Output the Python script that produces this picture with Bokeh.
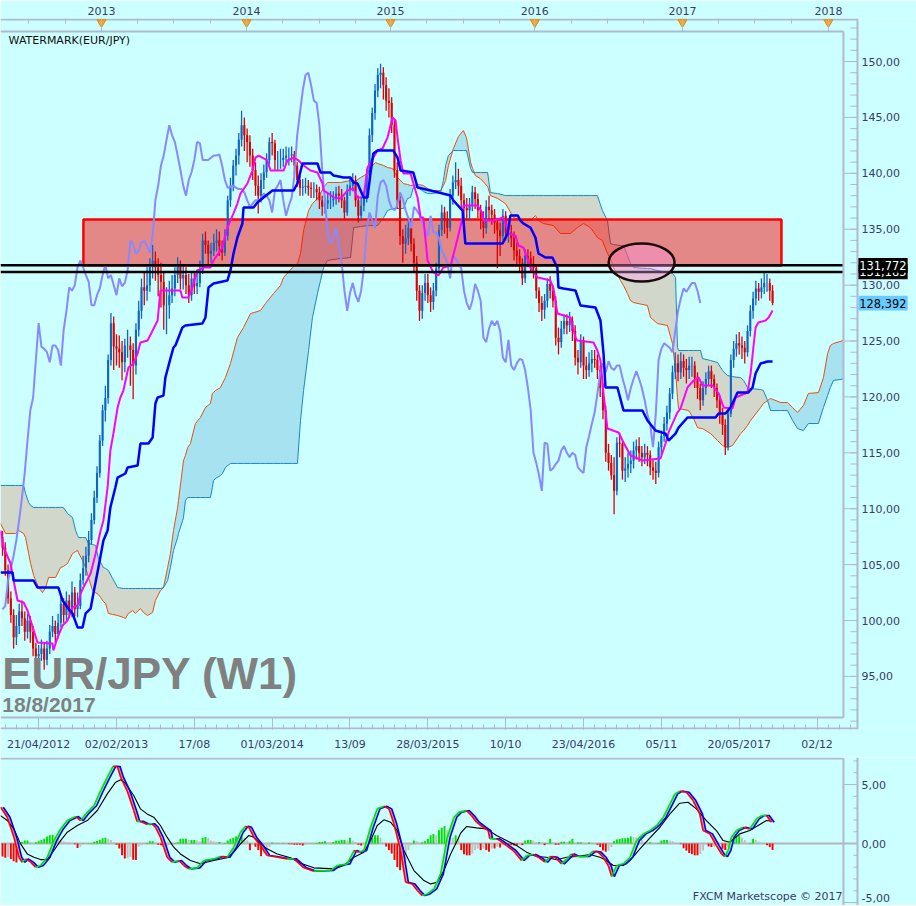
import numpy as np
from bokeh.plotting import figure
from bokeh.models import Range1d, LinearAxis, FixedTicker, Label, CustomJSTickFormatter
from bokeh.layouts import column
from bokeh.embed import file_html
from bokeh.resources import INLINE
from bokeh.core.properties import value

# ---------------- data (x = weeks since 21/04/2012, y = EUR/JPY) ----------------
FIRST_OPEN = 107.5
CLOSE = [
    106.5, 104.5, 102.0, 100.5, 98.5, 99.5, 100.8, 100.2, 99.0, 100.0,
    99.0, 97.5, 96.8, 97.0, 97.5, 96.5, 97.5, 99.0, 99.5, 98.8,
    99.8, 101.5, 100.5, 101.8, 100.8, 102.5, 101.0, 101.3, 103.6, 104.7,
    105.8, 107.2, 109.0, 111.0, 113.2, 116.1, 118.8, 119.9, 123.3, 126.6,
    124.5, 124.3, 124.0, 123.1, 124.6, 124.6, 124.2, 122.8, 126.0, 127.7,
    129.8, 129.5, 130.0, 131.6, 132.2, 131.6, 130.9, 130.3, 128.2, 128.2,
    129.1, 129.7, 130.9, 131.8, 130.6, 130.9, 130.0, 129.1, 130.6, 129.9,
    130.2, 131.3, 134.0, 133.6, 132.8, 133.1, 133.8, 134.0, 133.5, 132.9,
    134.4, 137.6, 138.9, 140.7, 141.6, 143.0, 144.3, 143.4, 142.8, 141.6,
    140.3, 138.9, 138.0, 139.4, 140.1, 141.2, 142.8, 142.7, 141.2, 141.2,
    141.2, 141.4, 141.6, 141.6, 141.7, 140.7, 139.4, 138.7, 138.8, 138.9,
    138.7, 138.6, 138.6, 138.3, 137.6, 137.0, 137.3, 137.6, 137.6, 137.7,
    138.2, 138.0, 137.6, 136.5, 138.5, 138.9, 139.4, 137.6, 136.2, 137.1,
    137.8, 139.8, 143.4, 145.4, 147.4, 148.8, 149.0, 147.9, 146.5, 146.3,
    144.3, 140.3, 137.6, 134.4, 133.7, 134.2, 135.1, 133.7, 132.0, 129.5,
    127.7, 129.3, 130.2, 129.1, 128.5, 129.5, 131.5, 134.9, 136.5, 135.8,
    135.1, 138.0, 139.2, 139.4, 138.9, 137.6, 136.9, 136.7, 137.1, 138.3,
    137.7, 136.7, 136.0, 135.1, 137.0, 136.7, 136.3, 135.6, 134.9, 134.4,
    136.2, 134.7, 134.7, 134.2, 133.1, 132.6, 132.0, 130.6, 132.6, 132.4,
    131.9, 131.5, 129.5, 128.4, 127.8, 128.6, 130.1, 129.5, 128.6, 125.3,
    124.9, 126.1, 126.8, 126.4, 126.8, 125.9, 123.5, 123.1, 125.1, 122.8,
    122.4, 123.0, 123.4, 123.3, 122.4, 120.8, 118.8, 115.0, 114.1, 113.0,
    111.6, 115.9, 115.8, 113.4, 113.6, 114.0, 114.3, 115.2, 115.6, 115.0,
    114.6, 115.0, 114.8, 113.7, 113.4, 113.2, 115.5, 116.5, 117.6, 118.6,
    120.3, 122.2, 123.0, 122.2, 123.2, 122.6, 122.4, 122.8, 122.8, 121.7,
    120.8, 119.7, 120.8, 121.6, 122.3, 121.6, 120.8, 119.7, 118.4, 117.5,
    115.5, 118.5, 123.3, 124.3, 124.8, 124.6, 124.4, 124.0, 125.9, 127.7,
    128.8, 129.7, 129.4, 129.8, 130.2, 130.2, 129.5, 128.4]
HIGH = [
    108.0, 107.0, 105.0, 102.6, 101.0, 100.5, 101.5, 101.8, 100.8, 100.6,
    100.4, 99.5, 98.0, 97.8, 98.3, 97.9, 98.2, 99.6, 100.4, 100.0,
    100.6, 102.2, 102.0, 102.6, 102.3, 103.5, 103.0, 102.5, 104.2, 105.8,
    106.6, 108.0, 109.6, 111.6, 113.8, 116.6, 119.3, 121.0, 123.8, 127.5,
    127.2, 125.6, 125.5, 125.0, 125.2, 126.0, 125.4, 124.8, 126.6, 128.6,
    130.6, 131.1, 131.6, 132.4, 133.6, 133.0, 132.4, 132.0, 131.2, 129.8,
    130.4, 130.9, 131.6, 132.5, 132.2, 131.8, 131.6, 131.0, 131.2, 131.2,
    131.4, 132.2, 134.6, 134.8, 134.0, 133.8, 134.6, 135.0, 134.8, 134.0,
    135.0, 138.0, 139.6, 141.2, 142.2, 143.6, 145.6, 145.0, 144.0, 143.4,
    142.2, 141.0, 139.8, 140.0, 140.8, 141.8, 143.2, 143.6, 143.0, 142.0,
    142.2, 142.2, 142.4, 142.3, 142.4, 142.0, 141.0, 139.8, 139.5, 139.6,
    139.4, 139.2, 139.2, 139.0, 138.8, 138.0, 137.9, 138.2, 138.4, 138.4,
    138.8, 138.9, 138.6, 137.9, 139.0, 139.7, 140.0, 139.8, 138.0, 137.8,
    138.4, 140.4, 144.0, 145.9, 148.0, 149.4, 149.8, 149.5, 148.6, 147.6,
    146.8, 144.8, 141.0, 138.2, 135.0, 135.4, 136.0, 135.8, 134.2, 132.6,
    130.0, 130.0, 131.0, 131.0, 129.8, 130.2, 132.0, 135.4, 137.2, 137.0,
    136.6, 138.6, 139.8, 141.0, 140.4, 139.6, 138.2, 137.8, 137.8, 138.9,
    138.8, 138.2, 137.2, 136.6, 137.6, 138.0, 137.2, 136.8, 136.0, 135.6,
    136.8, 136.6, 135.6, 135.4, 134.8, 133.8, 133.2, 132.4, 133.2, 133.2,
    133.0, 132.6, 131.8, 129.8, 129.0, 129.2, 130.6, 130.8, 130.0, 129.0,
    126.2, 126.8, 127.4, 127.4, 127.6, 127.2, 126.4, 124.2, 125.6, 125.4,
    123.6, 124.0, 124.2, 124.2, 123.8, 122.8, 121.2, 119.2, 115.8, 114.8,
    114.6, 116.4, 116.8, 116.0, 114.6, 115.0, 115.2, 116.0, 116.2, 116.4,
    115.6, 115.8, 115.6, 115.2, 114.4, 114.2, 116.0, 117.0, 118.2, 119.2,
    120.8, 122.8, 124.0, 123.8, 124.0, 123.8, 123.4, 123.6, 123.6, 123.2,
    122.2, 121.2, 121.4, 122.2, 122.8, 122.8, 122.0, 121.2, 120.2, 119.0,
    118.0, 119.0, 123.8, 125.0, 125.6, 125.8, 125.4, 125.0, 126.4, 128.2,
    129.4, 130.4, 130.2, 130.6, 131.2, 131.0, 130.6, 130.0]
LOW = [
    105.8, 104.0, 101.5, 99.8, 97.5, 97.8, 98.8, 99.5, 98.2, 98.4,
    98.0, 96.8, 95.8, 96.0, 96.4, 95.6, 96.0, 97.0, 98.5, 98.0,
    98.4, 99.4, 99.8, 100.0, 100.2, 100.3, 100.4, 100.3, 101.0, 103.2,
    104.0, 105.2, 106.8, 108.6, 110.5, 112.8, 115.6, 117.8, 119.4, 122.8,
    122.4, 122.8, 122.6, 121.5, 122.2, 123.5, 121.0, 119.8, 122.0, 125.4,
    127.0, 128.2, 128.6, 129.4, 130.6, 130.4, 129.0, 128.0, 126.0, 125.6,
    127.0, 128.4, 129.0, 130.2, 129.6, 129.6, 129.2, 128.4, 128.6, 129.2,
    129.2, 129.8, 131.0, 132.8, 131.8, 132.0, 132.6, 133.0, 132.6, 132.2,
    132.6, 134.0, 137.0, 138.4, 139.8, 140.8, 142.4, 142.0, 141.0, 140.6,
    139.4, 138.0, 136.4, 137.4, 138.6, 139.6, 140.8, 141.6, 140.2, 140.2,
    140.4, 140.6, 140.8, 140.7, 141.0, 139.8, 138.8, 138.0, 138.0, 138.2,
    138.0, 137.8, 137.8, 137.6, 136.8, 136.2, 136.4, 136.8, 136.8, 137.0,
    137.2, 137.4, 136.9, 135.8, 136.2, 138.0, 138.4, 137.0, 135.6, 135.8,
    136.6, 137.4, 139.4, 142.8, 144.8, 146.8, 147.6, 146.6, 145.6, 145.0,
    143.6, 139.6, 136.8, 133.6, 132.0, 132.8, 133.6, 133.0, 131.2, 128.6,
    126.8, 127.0, 128.6, 128.4, 127.6, 127.8, 129.0, 131.2, 134.4, 134.6,
    134.2, 134.8, 137.2, 138.6, 138.0, 136.8, 135.4, 135.8, 135.8, 136.6,
    136.8, 136.0, 135.0, 134.2, 134.6, 135.8, 135.4, 134.6, 131.5, 132.6,
    134.0, 134.0, 133.8, 133.4, 132.2, 131.8, 131.2, 130.0, 130.2, 131.6,
    131.2, 130.6, 128.8, 127.6, 126.8, 127.0, 128.0, 128.8, 128.0, 124.6,
    123.8, 124.4, 125.6, 125.6, 125.8, 125.0, 122.8, 122.0, 122.6, 121.6,
    121.6, 121.8, 122.2, 122.6, 121.6, 120.0, 118.0, 114.2, 113.4, 112.6,
    109.5, 111.2, 114.6, 112.6, 112.4, 112.8, 113.2, 113.6, 114.4, 114.2,
    113.8, 114.0, 113.8, 113.0, 112.6, 112.2, 112.8, 114.8, 116.0, 117.0,
    118.0, 119.8, 121.6, 121.4, 121.6, 121.8, 121.2, 121.6, 121.8, 120.8,
    119.8, 118.8, 119.2, 120.2, 121.0, 120.8, 120.0, 119.0, 117.6, 116.6,
    114.8, 115.2, 118.2, 122.6, 123.6, 123.8, 123.4, 123.0, 123.6, 125.4,
    127.0, 128.2, 128.6, 128.8, 129.2, 129.4, 128.6, 128.2]

TENKAN_W = [
    -0.7, 0.4, 2.9, 4.0, 5.4, 7.6, 9.0, 12.6, 18.0, 18.3,
    19.8, 21.6, 23.4, 25.2, 27.0, 28.1, 29.1, 31.7, 33.5, 35.3,
    36.3, 37.8, 38.8, 39.9, 41.4, 42.4, 43.5, 45.3, 47.1, 48.6,
    49.6, 52.2, 54.0, 55.8, 56.8, 64.0, 64.7, 66.9, 68.3, 70.1,
    72.3, 74.8, 75.9, 79.1, 80.9, 83.1, 84.5, 85.6, 88.1, 89.9,
    91.0, 92.1, 95.3, 96.4, 101.1, 102.5, 104.7, 106.5, 108.3, 110.8,
    113.3, 115.1, 115.5, 117.3, 119.1, 121.6, 124.1, 126.3, 127.7, 129.9,
    131.3, 133.4, 134.9, 136.7, 138.5, 140.3, 141.4, 142.1, 143.2, 144.2,
    146.8, 147.8, 149.3, 150.4, 151.4, 152.9, 155.0, 156.8, 158.6, 161.2,
    163.7, 165.5, 165.8, 170.9, 172.7, 173.0, 176.6, 180.2, 182.0, 184.5,
    185.6, 187.4, 189.9, 192.4, 194.2, 197.1, 198.2, 199.6, 204.3, 206.1,
    206.8, 212.6, 214.0, 215.1, 216.2, 217.6, 221.6, 223.4, 225.9, 230.2,
    236.7, 238.5, 239.6, 242.8, 243.9, 246.4, 248.6, 250.4, 251.8, 255.4,
    257.6, 259.4, 262.6, 263.7, 268.0, 269.1, 270.1, 270.9, 271.9, 274.5,
    275.6, 277.0]
TENKAN_P = [
    108.05, 106.53, 105.10, 103.58, 101.79, 101.61, 100.90, 98.03, 97.94, 97.32,
    98.48, 99.55, 100.00, 101.16, 101.34, 102.41, 102.95, 104.20, 105.99, 108.05,
    108.94, 111.90, 115.21, 116.73, 119.05, 119.95, 120.57, 122.63, 122.99, 123.88,
    124.87, 125.05, 125.94, 126.83, 129.52, 129.52, 128.89, 128.89, 129.78, 131.31,
    131.57, 131.57, 132.20, 133.36, 135.15, 136.41, 137.30, 138.19, 139.09, 140.25,
    141.41, 141.59, 141.15, 140.25, 140.25, 141.15, 141.41, 141.15, 140.70, 140.25,
    140.07, 139.09, 138.46, 138.19, 137.84, 137.75, 138.46, 138.64, 137.84, 137.84,
    140.52, 141.41, 142.04, 142.22, 143.20, 144.99, 144.72, 143.20, 141.15, 139.98,
    139.98, 139.09, 137.84, 136.05, 136.05, 132.20, 131.13, 130.86, 131.57, 131.75,
    134.17, 136.05, 137.12, 137.12, 136.41, 135.78, 135.78, 136.05, 134.62, 134.44,
    133.54, 133.36, 131.57, 130.68, 130.59, 130.41, 129.70, 127.46, 127.10, 125.31,
    125.05, 124.87, 124.15, 123.26, 120.31, 117.17, 116.82, 115.92, 114.76, 114.31,
    114.49, 115.83, 116.82, 118.61, 118.96, 120.84, 121.47, 121.74, 121.02, 121.02,
    120.31, 119.05, 118.96, 119.95, 120.39, 122.09, 124.42, 126.21, 126.66, 126.83,
    127.10, 127.73]

KIJUN_W = [
    -0.7, 3.6, 4.0, 11.2, 12.6, 20.1, 21.6, 23.7, 25.2, 27.0,
    28.8, 29.9, 31.7, 32.7, 34.5, 36.3, 37.8, 38.8, 40.6, 41.4,
    44.2, 45.0, 48.6, 49.6, 52.5, 54.0, 55.0, 55.8, 57.9, 58.6,
    60.4, 61.5, 62.2, 64.7, 65.8, 71.9, 73.0, 74.1, 75.9, 80.9,
    82.0, 83.1, 84.5, 86.3, 86.7, 90.3, 91.7, 93.9, 97.1, 104.7,
    106.1, 107.9, 113.3, 114.4, 118.0, 119.1, 122.7, 125.2, 126.3, 127.7,
    129.9, 131.3, 132.4, 133.4, 134.9, 140.6, 142.1, 143.2, 147.8, 149.3,
    154.0, 161.2, 162.2, 165.5, 166.5, 179.9, 181.7, 182.7, 185.3, 186.3,
    187.4, 189.9, 191.7, 192.8, 195.3, 197.8, 199.6, 200.0, 201.8, 206.1,
    207.9, 213.3, 215.1, 216.2, 216.9, 221.2, 223.4, 230.2, 232.0, 234.9,
    238.5, 239.6, 242.1, 243.2, 246.4, 256.5, 257.6, 260.1, 261.9, 264.4,
    268.3, 269.8, 270.9, 272.7, 275.2, 277.0]
KIJUN_P = [
    104.29, 104.29, 103.58, 103.58, 102.95, 102.95, 101.79, 101.07, 100.63, 99.38,
    99.38, 100.63, 101.07, 102.41, 104.74, 107.16, 108.05, 110.11, 111.90, 112.79,
    113.15, 113.69, 113.86, 115.83, 115.83, 116.37, 119.41, 119.95, 120.12, 121.74,
    123.43, 124.42, 124.60, 126.21, 126.39, 126.57, 127.10, 129.78, 130.14, 130.41,
    131.31, 132.83, 134.26, 135.51, 136.94, 136.94, 137.39, 137.84, 138.46, 138.46,
    139.09, 140.88, 140.88, 140.07, 140.07, 139.80, 139.62, 139.62, 139.18, 139.09,
    137.84, 137.84, 140.07, 141.77, 142.04, 142.04, 141.41, 140.25, 140.07, 138.73,
    138.46, 138.01, 137.57, 136.67, 133.72, 133.72, 134.62, 136.23, 136.23, 135.78,
    135.51, 135.15, 134.26, 132.83, 132.47, 132.47, 131.57, 129.78, 129.70, 129.52,
    128.18, 128.00, 126.83, 123.88, 120.84, 120.84, 118.78, 118.78, 117.89, 116.99,
    116.72, 116.10, 116.72, 117.26, 118.16, 118.16, 118.51, 118.51, 119.05, 120.39,
    120.39, 120.84, 122.09, 122.99, 123.17, 123.17]

CLOUD_W = [
    -0.7, 1.1, 4.7, 5.8, 7.6, 8.3, 9.4, 10.1, 11.2, 13.0,
    14.4, 15.5, 16.6, 19.1, 20.9, 21.9, 23.4, 25.2, 26.3, 27.0,
    27.3, 28.8, 29.9, 30.9, 32.4, 33.5, 34.5, 35.3, 36.3, 37.1,
    38.1, 39.6, 41.4, 43.5, 44.2, 45.3, 46.8, 47.8, 49.6, 50.7,
    52.2, 54.0, 55.0, 56.8, 57.9, 59.4, 60.4, 61.5, 63.0, 63.3,
    64.8, 65.1, 65.8, 66.6, 67.6, 69.4, 71.2, 73.0, 74.8, 75.5,
    75.9, 76.6, 78.4, 79.1, 80.2, 82.0, 84.5, 86.7, 89.2, 92.8,
    94.6, 97.5, 100.0, 101.1, 104.3, 106.1, 107.2, 108.3, 110.1, 111.5,
    113.3, 114.4, 115.5, 116.9, 121.6, 125.2, 126.3, 128.8, 131.3, 132.4,
    134.2, 134.9, 137.1, 138.5, 140.3, 142.1, 144.2, 145.7, 146.8, 147.8,
    149.6, 151.4, 152.9, 154.0, 157.6, 158.6, 159.4, 160.4, 162.2, 164.0,
    165.8, 166.9, 168.4, 169.1, 170.1, 171.9, 174.5, 175.5, 178.1, 180.9,
    183.8, 186.3, 189.9, 191.7, 192.8, 194.6, 198.2, 200.7, 204.3, 206.8,
    209.0, 211.5, 214.0, 215.8, 217.6, 218.7, 219.8, 222.3, 223.4, 224.8,
    225.9, 227.0, 232.0, 233.1, 235.6, 239.2, 241.0, 242.1, 242.8, 243.2,
    246.8, 248.6, 250.0, 251.1, 251.8, 254.7, 257.2, 259.0, 260.8, 262.6,
    265.5, 266.6, 268.0, 269.1, 272.7, 273.7, 275.2, 276.3, 279.9, 282.4,
    284.2, 286.0, 288.1, 289.9, 293.5, 295.3, 296.8, 297.8, 298.9, 302.5]
SPAN_A = [
    108.68, 107.78, 107.78, 108.05, 107.78, 107.42, 105.99, 105.10, 104.03, 102.95,
    102.49, 102.95, 103.85, 103.85, 104.74, 104.83, 105.10, 105.99, 106.17, 106.26,
    106.08, 105.37, 104.74, 103.85, 102.67, 102.49, 102.32, 102.06, 101.70, 101.52,
    100.63, 100.54, 100.45, 100.27, 100.18, 100.63, 100.89, 100.63, 101.07, 100.72,
    100.45, 100.72, 101.79, 102.67, 102.95, 104.74, 105.99, 108.05, 110.11, 110.73,
    113.69, 114.31, 114.76, 115.47, 115.83, 117.62, 118.16, 119.05, 119.41, 120.31,
    120.39, 120.57, 120.84, 121.20, 121.74, 122.99, 125.31, 126.21, 127.45, 127.73,
    128.36, 129.25, 129.96, 130.68, 131.57, 131.93, 132.83, 134.88, 136.67, 137.30,
    137.75, 138.19, 138.73, 139.18, 139.18, 139.36, 139.18, 139.62, 139.98, 140.52,
    140.97, 140.88, 140.70, 140.52, 140.43, 139.62, 139.09, 139.00, 138.91, 138.91,
    139.00, 138.91, 138.64, 138.46, 138.46, 138.91, 139.36, 140.70, 142.22, 143.29,
    143.83, 143.20, 140.97, 140.43, 139.80, 139.53, 138.82, 138.01, 137.75, 137.30,
    136.05, 135.78, 135.78, 136.23, 135.78, 135.51, 135.33, 134.62, 134.62, 135.15,
    135.51, 135.15, 134.26, 133.99, 132.83, 132.38, 131.57, 130.41, 129.96, 129.25,
    128.62, 128.44, 128.18, 127.10, 126.56, 126.39, 124.78, 122.36, 119.95, 118.96,
    118.78, 118.07, 117.26, 117.17, 117.17, 116.72, 116.10, 115.65, 115.47, 115.65,
    116.72, 116.99, 117.44, 117.89, 119.05, 119.41, 119.68, 119.86, 119.50, 119.50,
    119.05, 118.61, 119.23, 120.31, 120.39, 121.72, 123.88, 124.60, 124.78, 125.05]
SPAN_B = [
    112.08, 112.08, 112.08, 112.08, 112.08, 111.36, 110.55, 110.29, 110.11, 110.11,
    110.11, 110.11, 110.11, 110.11, 110.11, 110.11, 109.57, 109.21, 108.05, 107.60,
    107.42, 107.42, 107.42, 106.89, 106.80, 106.71, 105.55, 105.19, 104.74, 104.65,
    104.47, 103.76, 102.95, 102.86, 102.86, 102.86, 102.86, 102.86, 102.86, 102.86,
    102.86, 102.86, 102.86, 102.86, 102.95, 103.58, 104.74, 106.26, 107.42, 107.78,
    108.94, 109.21, 110.73, 111.00, 111.00, 111.00, 111.00, 111.00, 111.00, 111.90,
    112.52, 112.70, 112.97, 113.15, 113.69, 114.05, 114.05, 114.05, 114.05, 114.05,
    114.05, 114.05, 114.05, 114.05, 114.05, 114.05, 117.89, 120.57, 124.15, 127.10,
    129.25, 130.41, 131.57, 132.21, 132.38, 132.47, 135.15, 135.24, 135.33, 135.33,
    135.33, 135.33, 136.05, 136.67, 136.85, 136.85, 136.85, 137.75, 137.84, 138.73,
    138.73, 138.37, 138.19, 138.19, 138.28, 139.36, 140.70, 141.59, 142.04, 142.04,
    142.04, 142.04, 140.43, 140.07, 140.07, 140.07, 140.07, 138.28, 138.19, 138.01,
    138.01, 138.01, 138.01, 138.01, 138.01, 138.01, 138.01, 138.01, 138.01, 138.01,
    138.01, 138.01, 138.01, 136.67, 135.78, 133.72, 133.63, 133.54, 133.54, 132.65,
    131.93, 131.57, 131.48, 131.48, 131.31, 131.12, 131.04, 130.68, 124.42, 124.15,
    124.15, 124.15, 124.15, 124.15, 123.43, 123.26, 123.08, 122.36, 121.91, 121.82,
    121.72, 121.47, 120.84, 120.75, 120.66, 120.57, 119.68, 118.78, 118.78, 118.78,
    117.89, 117.17, 116.99, 117.62, 117.62, 119.05, 120.13, 120.84, 121.47, 121.60]
CHIKOU_SHIFT = 26

MACD_W = [
    -0.7, 1.7, 4.1, 5.9, 7.1, 8.3, 10.1, 11.9, 13.7, 16.1,
    18.5, 20.9, 23.3, 26.3, 28.1, 29.9, 32.9, 35.3, 37.7, 39.8,
    41.3, 42.5, 44.8, 47.2, 48.4, 49.6, 52.0, 53.8, 55.0, 56.8,
    58.0, 59.2, 61.0, 63.4, 65.2, 67.0, 70.0, 72.4, 76.0, 78.4,
    80.8, 83.2, 85.6, 87.4, 88.6, 90.4, 92.8, 95.2, 97.6, 102.4,
    104.8, 108.4, 112.0, 118.0, 120.4, 124.0, 126.4, 128.2, 130.0, 132.4,
    134.8, 137.2, 139.0, 140.8, 143.2, 145.0, 147.4, 149.2, 151.0, 152.8,
    155.2, 157.6, 160.0, 162.4, 164.2, 166.9, 168.7, 170.5, 172.9, 174.7,
    175.3, 177.7, 178.9, 181.3, 183.7, 186.7, 188.5, 190.9, 192.7, 195.1,
    196.9, 198.7, 201.1, 202.9, 204.7, 206.5, 210.1, 212.5, 214.3, 216.1,
    217.9, 219.1, 220.9, 223.3, 225.7, 228.1, 230.5, 232.9, 235.3, 237.7,
    240.1, 241.9, 243.6, 246.0, 248.4, 250.8, 252.0, 254.4, 256.8, 258.6,
    259.8, 261.0, 262.2, 264.0, 266.4, 268.8, 271.2, 273.0, 274.8, 276.6]
MACD_V = [
    3.08, 2.23, 0.54, -1.16, -1.58, -1.30, -1.58, -2.00, -1.86, -1.16,
    0.25, 1.24, 1.95, 2.29, 1.95, 2.51, 3.22, 4.49, 5.62, 6.55,
    6.53, 5.62, 4.49, 2.80, 1.86, 1.89, 1.61, 1.67, 1.38, 0.54,
    -0.31, -1.16, -1.58, -1.44, -1.86, -2.15, -2.06, -1.44, -1.30, -1.10,
    -1.16, -0.31, 0.96, 1.47, 1.38, 0.54, -0.17, -1.02, -1.10, -1.30,
    -1.30, -2.06, -2.34, -2.29, -1.86, -1.72, -0.59, -0.73, -0.59, 1.38,
    2.94, 3.16, 2.94, 1.67, -0.59, -3.28, -3.42, -3.98, -4.41, -4.27,
    -3.84, -2.57, 0.54, 2.23, 2.66, 2.80, 2.37, 1.81, 1.38, 1.10,
    0.40, 0.40, 0.25, -0.17, -0.59, -1.44, -1.02, -0.93, -1.16, -1.58,
    -1.10, -1.16, -1.72, -1.30, -0.88, -1.10, -1.10, -0.65, -0.73, -1.16,
    -1.86, -2.80, -1.86, -1.72, -1.16, 0.25, 0.82, 1.10, 1.53, 2.23,
    3.36, 4.21, 4.44, 4.35, 3.64, 2.51, 1.10, 0.82, -0.17, -0.88,
    -1.10, -0.59, 0.54, 1.10, 1.38, 1.24, 2.09, 2.37, 2.37, 1.81]
MACD_LAG = 1.0
SIG_W = [
    -0.7, 1.7, 4.1, 6.5, 8.9, 11.3, 13.7, 16.1, 18.5, 20.9,
    23.3, 26.9, 30.5, 34.1, 37.7, 40.7, 42.5, 44.2, 47.2, 49.6,
    52.0, 54.4, 56.8, 59.2, 61.6, 64.0, 67.6, 71.2, 76.0, 80.8,
    83.2, 85.6, 88.6, 90.4, 92.8, 95.2, 98.8, 103.6, 107.2, 112.0,
    119.2, 122.8, 126.4, 130.0, 132.4, 134.8, 137.2, 139.6, 142.0, 144.4,
    148.0, 151.6, 154.0, 156.4, 158.8, 161.2, 163.6, 164.8, 166.9, 170.5,
    174.1, 177.7, 181.3, 184.9, 188.5, 192.1, 195.7, 199.3, 202.9, 206.5,
    211.3, 214.9, 217.3, 219.7, 223.3, 225.7, 229.3, 232.9, 236.5, 240.1,
    243.6, 246.6, 249.6, 253.2, 256.8, 259.2, 261.6, 265.2, 268.8, 272.4,
    274.8, 276.6]
SIG_V = [
    2.37, 1.95, 1.24, -0.03, -0.88, -1.16, -1.36, -1.36, -0.59, 0.25,
    0.96, 1.53, 1.95, 2.80, 4.21, 5.20, 5.40, 5.11, 4.07, 2.94,
    2.51, 2.23, 1.53, 0.54, -0.31, -0.88, -1.44, -1.72, -1.44, -1.21,
    -0.73, -0.03, 0.68, 0.54, -0.03, -0.45, -0.88, -1.21, -1.67, -2.06,
    -2.15, -1.86, -1.16, -0.73, 0.25, 1.53, 2.01, 1.81, 1.10, -0.59,
    -2.29, -3.14, -3.42, -3.28, -2.29, -0.88, 0.25, 0.88, 1.44, 1.33,
    1.24, 0.68, 0.25, -0.17, -0.73, -1.10, -1.16, -1.38, -1.16, -1.10,
    -0.93, -1.16, -1.44, -1.86, -1.86, -1.44, -0.45, 0.48, 1.38, 2.51,
    3.42, 3.50, 2.94, 1.95, 1.10, 0.25, 0.11, 0.82, 1.10, 1.61,
    1.95, 1.89]
HIST = [
    -1.1, -1.2, -1.15, -1.3, -1.5, -1.6, -0.6, 0.15, 0.25, 0.25,
    0.12, 0.05, 0.1, 0.2, 0.3, 0.4, 0.6, 0.7, 0.75, 0.6,
    0.5, 0.3, 0.2, 0.12, 0.1, 0.05, -0.05, -0.37, -0.28, 0.05,
    0.02, 0.03, 0.05, 0.15, 0.22, 0.32, 0.45, 0.5, 0.4, 0.3,
    0.1, -0.1, -0.42, -1.0, -1.27, -1.2, -1.15, -1.38, -1.4, -0.28,
    -0.14, 0.0, 0.05, 0.2, 0.2, 0.05, -0.1, -0.14, -0.28, -0.25,
    -0.1, 0.0, 0.05, 0.1, 0.4, 0.4, 0.4, 0.3, 0.3, 0.3,
    0.25, 0.2, 0.5, 0.55, 0.5, 0.25, 0.2, 0.12, 0.12, 0.05,
    0.05, 0.25, 0.4, 0.5, 0.6, 0.7, 0.7, 0.5, 0.25, -0.56,
    -0.1, -0.28, -0.56, -1.07, -0.85, -0.56, -0.3, 0.08, 0.0, 0.02,
    0.0, -0.02, 0.0, -0.05, -0.06, -0.1, -0.1, -0.1, -0.17, -0.1,
    -0.03, 0.0, 0.02, 0.05, 0.14, 0.14, 0.2, 0.14, 0.12, 0.14,
    0.25, 0.25, 0.3, 0.3, 0.25, 0.5, 0.25, 0.14, -0.1, -0.17,
    -0.1, 0.25, 0.4, 0.5, 0.7, 0.7, 0.5, 0.1, -0.25, -0.56,
    -0.85, -1.4, -2.0, -2.26, -1.7, -1.4, -0.56, -0.15, 0.25, 0.2,
    0.1, 0.1, 0.2, 0.4, 0.7, 0.8, 0.7, 1.13, 1.35, 1.47,
    1.13, 0.85, 0.5, 0.7, 0.4, -0.56, -0.9, -1.0, -1.0, -0.85,
    -0.56, -0.42, -0.56, -0.42, -0.56, -0.7, -0.42, -0.42, -0.28, -0.34,
    -0.14, -0.1, -0.14, -0.14, -0.17, -0.17, -0.14, -0.14, 0.25, 0.3,
    0.3, 0.25, 0.12, 0.12, 0.1, -0.14, 0.05, 0.4, 0.1, -0.1,
    -0.1, 0.15, 0.15, 0.12, 0.2, 0.4, 0.05, 0.1, 0.1, 0.08,
    0.0, 0.1, 0.08, 0.0, -0.1, -0.3, -0.6, -0.7, -0.6, -0.3,
    0.2, 0.35, 0.4, 0.45, 0.45, 0.5, 0.6, 0.55, 0.5, 0.45,
    0.3, 0.15, 0.1, 0.1, 0.05, 0.0, 0.05, 0.25, 0.3, 0.3,
    0.25, 0.2, 0.1, 0.0, -0.05, -0.4, -0.6, -0.8, -0.9, -1.0,
    -1.0, -0.9, -0.6, -0.1, -0.25, -0.3, -0.25, -0.2, -0.05, -0.45,
    -0.55, -0.3, 0.4, 0.55, 0.6, 0.7, 0.5, 0.3, 0.05, 0.05,
    0.4, 0.3, 0.15, 0.05, 0.0, -0.15, -0.3, -0.55]

YEAR_LABEL = ["2013", "2014", "2015", "2016", "2017", "2018"]
YEAR_WEEK = [35.6, 87.8, 139.6, 191.5, 244.6, 297.1]
DATE_LABEL = ["21/04/2012", "02/02/2013", "17/08", "01/03/2014", "13/09", "28/03/2015",
              "10/10", "23/04/2016", "05/11", "20/05/2017", "02/12"]
DATE_WEEK = [13, 41, 69, 97, 125, 153, 181, 209, 237, 265, 293]
PRICE_TICKS = [95, 100, 105, 110, 115, 120, 125, 130, 135, 140, 145, 150]
MACD_TICKS = [-5, 0, 5]
LEVELS = [131.772, 131.185]
LEVEL_TEXT = ["131,772", "131,185"]
LAST_PRICE = 128.392
ZONE_WEEKS = (29.1, 280.2)
ZONE_PRICES = (131.75, 135.87)
CIRCLE = dict(week=229.9, price=132.02, weeks=23.7, prices=3.4)

# ---------------- styling / layout constants ----------------
BG = "#ccffff"
GRID = "#b0b8d2"
TXT = "#3a3a6a"
UP = "#1064c4"
DOWN = "#e00000"
X0, X1 = -0.72, 328.78      # whole page width in week units
XIN = 302.5                 # inner frame border
XAX = 307.55                # price-axis line
XMIN_T = 305.0              # start of minor price ticks
XLAB = 309.0                # price tick labels
XBOX0, XBOX1 = 307.9, 325.6 # price tag boxes
P_LO, P_HI = 90.25, 153.85
P_TOP_IN, P_BOT_IN = 152.68, 91.32
M_LO, M_HI = -5.25, 7.29
FONT = "DejaVu Sans"


def fmt(pos, labs):
    return CustomJSTickFormatter(args=dict(pos=pos, labs=labs), code="""
        for (let i = 0; i < pos.length; i++) { if (Math.abs(pos[i] - tick) < 1e-6) return labs[i]; }
        return "";
    """)


def style_axis(ax, tin, tmin, standoff):
    ax.axis_line_color = None
    ax.major_tick_line_color = GRID
    ax.minor_tick_line_color = GRID
    ax.major_tick_in = tin
    ax.major_tick_out = 0
    ax.minor_tick_in = tmin
    ax.minor_tick_out = 0
    ax.major_label_standoff = standoff
    ax.major_label_text_font = FONT
    ax.major_label_text_font_size = "11px"
    ax.major_label_text_color = TXT


def comma(v):
    return f"{v:.2f}".replace(".", ",")


x_rng = Range1d(X0, X1)
p = figure(frame_width=916, frame_height=711, x_range=x_rng, y_range=Range1d(P_LO, P_HI),
           x_axis_location=None, y_axis_location=None, toolbar_location=None,
           output_backend="svg", min_border_left=0, min_border_right=0,
           min_border_top=18, min_border_bottom=28,
           background_fill_color=BG, border_fill_color=BG, outline_line_color=None)
p.grid.visible = False

quarters = [y + 13.04 * k for y in YEAR_WEEK for k in (1, 2, 3)] + [YEAR_WEEK[0] - 13.04 * k for k in (1, 2)]
quarters = [v for v in quarters if v < XAX]
top_ax = LinearAxis(ticker=FixedTicker(ticks=YEAR_WEEK, minor_ticks=quarters),
                    formatter=fmt(YEAR_WEEK, YEAR_LABEL))
style_axis(top_ax, 13, 5, 4)
p.add_layout(top_ax, "above")

bot_ax = LinearAxis(ticker=FixedTicker(ticks=DATE_WEEK, minor_ticks=[13 + 4 * j for j in range(-3, 74)]),
                    formatter=fmt(DATE_WEEK, DATE_LABEL))
style_axis(bot_ax, 12, 5, 8)
p.add_layout(bot_ax, "below")

# Ichimoku cloud
A = np.array(SPAN_A)
B = np.array(SPAN_B)
upper = np.maximum(A, B)
p.varea(x=CLOUD_W, y1=B, y2=upper, fill_color="#a6e2ef")
p.varea(x=CLOUD_W, y1=A, y2=upper, fill_color="#d1d8cb")
p.line(CLOUD_W, SPAN_A, line_color="#e8500a", line_width=1)
p.line(CLOUD_W, SPAN_B, line_color="#1a88c0", line_width=1)

# resistance zone
p.quad(left=[ZONE_WEEKS[0]], right=[ZONE_WEEKS[1]], bottom=[ZONE_PRICES[0]], top=[ZONE_PRICES[1]],
       fill_color="#ff0000", fill_alpha=0.47, line_color="#ff0000", line_width=2.5)

# candles
weeks = np.arange(len(CLOSE))
opens = np.array([FIRST_OPEN] + CLOSE[:-1])
closes = np.array(CLOSE)
cols = [UP if c >= o else DOWN for o, c in zip(opens, closes)]
p.segment(x0=weeks, y0=LOW, x1=weeks, y1=HIGH, line_color=cols, line_width=1.3)
p.vbar(x=weeks, width=0.75, top=opens, bottom=closes, fill_color=cols, line_color=None)

# chikou, tenkan, kijun
p.line(weeks[CHIKOU_SHIFT:] - CHIKOU_SHIFT, closes[CHIKOU_SHIFT:], line_color="#8888ff", line_width=2)
p.line(TENKAN_W, TENKAN_P, line_color="#ff00ff", line_width=2)
p.line(KIJUN_W, KIJUN_P, line_color="#0000ff", line_width=2.5)

# horizontal levels and circle
p.segment(x0=[X0, X0], y0=LEVELS, x1=[XIN, XIN], y1=LEVELS, line_color="black", line_width=2.5)
p.ellipse(x=[CIRCLE["week"]], y=[CIRCLE["price"]], width=[CIRCLE["weeks"]], height=[CIRCLE["prices"]],
          fill_color="#ff9cf0", fill_alpha=0.35, line_color="#1a0a0a", line_width=2.5)

# frame lines (inner frame + axis lines)
p.segment(x0=[X0, X0, XIN, X0, X0, XAX], y0=[P_TOP_IN, P_BOT_IN, P_BOT_IN, P_HI - 0.09, P_LO + 0.09, P_LO],
          x1=[XIN, XIN, XIN, XAX, XAX, XAX], y1=[P_TOP_IN, P_BOT_IN, P_TOP_IN, P_HI - 0.09, P_LO + 0.09, P_HI],
          line_color=GRID, line_width=2)

# price axis ticks and labels
p.segment(x0=[XIN] * len(PRICE_TICKS), y0=PRICE_TICKS, x1=[XAX] * len(PRICE_TICKS), y1=PRICE_TICKS,
          line_color=GRID, line_width=1)
minor_p = list(range(91, 154))
p.segment(x0=[XMIN_T] * len(minor_p), y0=minor_p, x1=[XAX] * len(minor_p), y1=minor_p,
          line_color=GRID, line_width=1)
p.text(x=[XLAB] * len(PRICE_TICKS), y=PRICE_TICKS, text=[comma(v) for v in PRICE_TICKS],
       text_baseline="middle", text_align="left", text_font=value(FONT),
       text_font_size="11px", text_color=TXT)

# price tags
tag_y = [LEVELS[1], LEVELS[0], LAST_PRICE]
tag_t = [LEVEL_TEXT[1], LEVEL_TEXT[0], f"{LAST_PRICE:.3f}".replace(".", ",")]
tag_bg = ["black", "black", "#66ccff"]
tag_fg = ["white", "white", "black"]
for yv, t, bg, fg in zip(tag_y, tag_t, tag_bg, tag_fg):
    p.quad(left=[XBOX0], right=[XBOX1], bottom=[yv - 0.66], top=[yv + 0.66], fill_color=bg, line_color=None)
    p.text(x=[XBOX0 + 0.3], y=[yv], text=[t], text_baseline="middle", text_align="left",
           text_font=value(FONT), text_font_size="11.4px", text_color=fg)

# year markers
p.scatter(YEAR_WEEK, [153.5] * len(YEAR_WEEK), marker="inverted_triangle", size=9,
          fill_color="#ffa51f", line_color="#e08a00")

# texts
p.add_layout(Label(x=2.2, y=152.45, text="WATERMARK(EUR/JPY)", text_baseline="top",
                   text_font=FONT, text_font_size="11px", text_color="#101010"))
p.add_layout(Label(x=-0.1, y=95.3, text="EUR/JPY (W1)", text_baseline="alphabetic",
                   text_font="Liberation Sans", text_font_style="bold", text_font_size="44px",
                   text_color="#808080"))
p.add_layout(Label(x=-0.1, y=92.45, text="18/8/2017", text_baseline="alphabetic",
                   text_font="Liberation Sans", text_font_style="bold", text_font_size="21px",
                   text_color="#808080"))

# ---------------- MACD panel ----------------
q = figure(frame_width=916, frame_height=148, x_range=x_rng, y_range=Range1d(M_LO, M_HI),
           x_axis_location=None, y_axis_location=None, toolbar_location=None,
           output_backend="svg", min_border_left=0, min_border_right=0,
           min_border_top=0, min_border_bottom=0,
           background_fill_color=BG, border_fill_color=BG, outline_line_color=None)
q.grid.visible = False

q.segment(x0=[X0], y0=[0], x1=[XAX], y1=[0], line_color="#b4b4b4", line_width=2)

hcols = []
prev = 0.0
for v in HIST:
    if v > 0 and v >= prev:
        hcols.append("#00e000")
    elif v < 0 and v <= prev:
        hcols.append("#ff0000")
    else:
        hcols.append("#c0c0c0")
    prev = v
q.vbar(x=np.arange(len(HIST)), width=0.7, top=HIST, bottom=0, fill_color=hcols, line_color=None)

mw = np.array(MACD_W)
mv = np.array(MACD_V)
xs, ys, fcols, lcols = [], [], [], []
for i in range(len(mw) - 1):
    xs.append([mw[i], mw[i + 1], mw[i + 1] + MACD_LAG, mw[i] + MACD_LAG])
    ys.append([mv[i], mv[i + 1], mv[i + 1], mv[i]])
    rising = mv[i + 1] >= mv[i]
    fcols.append("#8cf08c" if rising else "#e49090")
    lcols.append("#00e000" if rising else "#ff0000")
q.patches(xs, ys, fill_color=fcols, line_color=None)
q.line(SIG_W, SIG_V, line_color="black", line_width=1.1)
q.line(mw + MACD_LAG, mv, line_color="#0000ff", line_width=1.6)
q.segment(x0=mw[:-1], y0=mv[:-1], x1=mw[1:], y1=mv[1:], line_color=lcols, line_width=1.6)

# panel frame, ticks and labels
q.segment(x0=[X0, XIN, XAX], y0=[7.2, M_LO, M_LO], x1=[XIN, XIN, XAX], y1=[7.2, 7.2, M_HI],
          line_color=GRID, line_width=2)
q.segment(x0=[XIN] * 3, y0=MACD_TICKS, x1=[XAX] * 3, y1=MACD_TICKS, line_color=GRID, line_width=1)
minor_m = list(range(-5, 8))
q.segment(x0=[306.1] * len(minor_m), y0=minor_m, x1=[XAX] * len(minor_m), y1=minor_m,
          line_color=GRID, line_width=1)
q.text(x=[XLAB, XLAB], y=[5, 0], text=[comma(5), comma(0)], text_baseline="middle", text_align="left",
       text_font=value(FONT), text_font_size="11px", text_color=TXT)
q.text(x=[XLAB], y=[-4.6], text=[comma(-5)], text_baseline="middle", text_align="left",
       text_font=value(FONT), text_font_size="11px", text_color=TXT)
q.add_layout(Label(x=302.2, y=-4.5, text="FXCM Marketscope \u00a9 2017", text_align="right",
                   text_baseline="alphabetic", text_font=FONT, text_font_size="11px",
                   text_color=TXT))

layout = column(p, q, spacing=0)
open("out.html", "w").write(file_html(layout, INLINE))
